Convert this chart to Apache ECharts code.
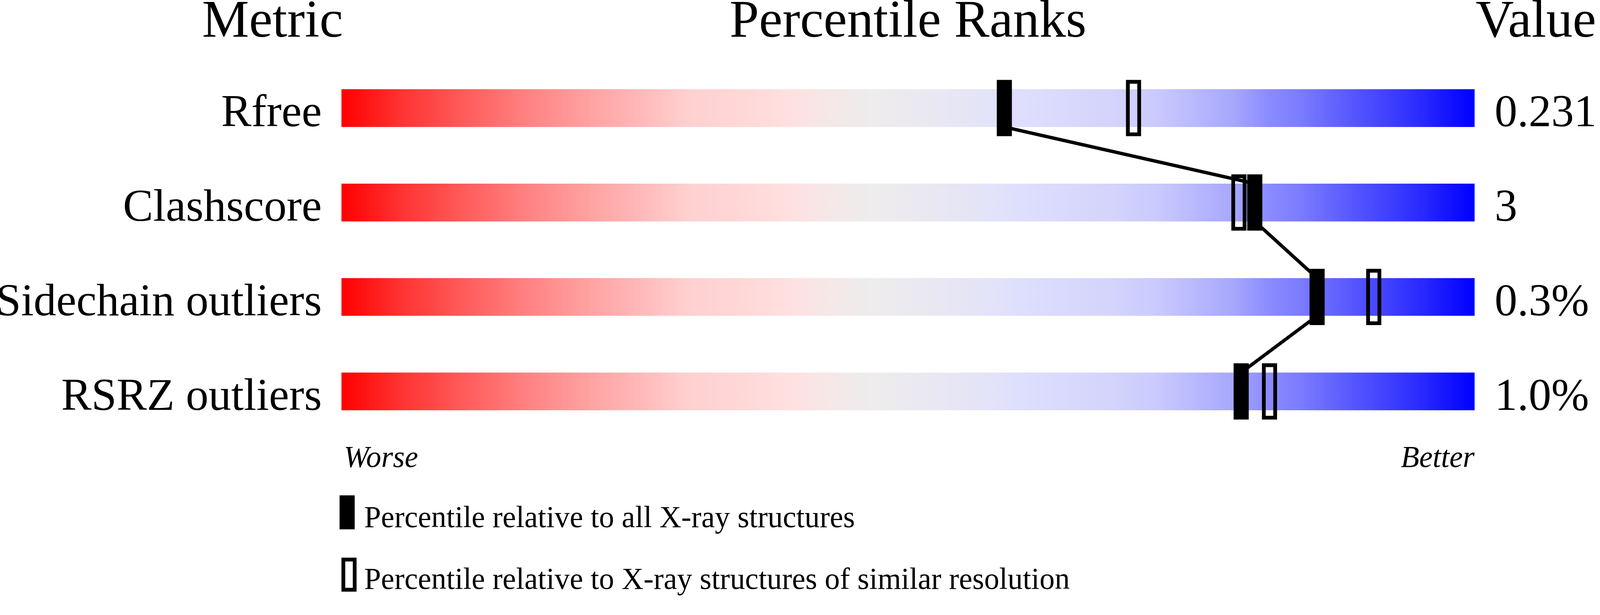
<!DOCTYPE html>
<html><head><meta charset="utf-8">
<script src="https://cdn.jsdelivr.net/npm/echarts@6/dist/echarts.min.js"></script>
<style>html,body{margin:0;padding:0;background:#fff;overflow:hidden}#c{width:100vw;height:100vh}</style>
</head><body><div id="c"></div>
<script>
// ---- data ----
const metrics = ['Rfree', 'Clashscore', 'Sidechain outliers', 'RSRZ outliers'];
const valueLabels = ['0.231', '3', '0.3%', '1.0%'];
const pctAll = [58.5, 80.6, 86.1, 79.4];
const pctSimilar = [69.9, 79.2, 91.1, 81.9];
const legendNames = ['Percentile relative to all X-ray structures', 'Percentile relative to X-ray structures of similar resolution'];
const headers = ['Metric', 'Percentile Ranks', 'Value'];
const axisEnds = ['Worse', 'Better'];

// ---- styles ----
const FONT = "'Liberation Serif','Times New Roman','DejaVu Serif',serif";
const stops = [
  [0, '#ff0000'], [0.053, '#ff3333'], [0.107, '#ff5a5a'], [0.161, '#ff8080'],
  [0.216, '#ffa0a0'], [0.27, '#ffbcbc'], [0.306, '#ffd0d0'], [0.36, '#ffd8d8'],
  [0.396, '#ffe0e0'], [0.433, '#f4e8e8'], [0.469, '#eeecec'], [0.505, '#ebe9ef'],
  [0.565, '#e4e4f8'], [0.602, '#dedefe'], [0.677, '#d4d4fc'], [0.719, '#cacafe'],
  [0.761, '#b4b4fe'], [0.786, '#a8a8fc'], [0.817, '#8c8cff'], [0.845, '#7c7cff'],
  [0.873, '#6666ff'], [0.901, '#5050ff'], [0.929, '#3c3cff'], [0.957, '#2626ff'],
  [0.985, '#0c0cff'], [1, '#0000ff']
].map(s => ({offset: s[0], color: s[1]}));

const el = document.getElementById('c');
const chart = echarts.init(el, null, {renderer: 'canvas'});
const S = Math.min(chart.getWidth() / 4236, chart.getHeight() / 1574);
const px = v => v * S;

const segData = [];
for (let i = 0; i < pctAll.length - 1; i++) segData.push([pctAll[i], i, pctAll[i + 1], i + 1]);

// marker renderer: hollow or filled rectangle centred on (value, row)
function markerRenderer(hollow) {
  return function (params, api) {
    const c = api.coord([api.value(0), api.value(1)]);
    const band = api.size([0, 1])[1];
    const H = band * 149 / 250, W = px(40);
    if (hollow) {
      const bw = px(10);
      return {type: 'rect', shape: {x: c[0] - W / 2 + bw / 2, y: c[1] - H / 2 + bw / 2, width: W - bw, height: H - bw},
              style: {fill: 'none', stroke: '#000', lineWidth: bw}};
    }
    return {type: 'rect', shape: {x: c[0] - W / 2, y: c[1] - H / 2, width: W, height: H},
            style: {fill: '#000'}};
  };
}

const labelAxis = (data, pos, margin) => ({
  type: 'category', gridIndex: 1, data: data, inverse: true, position: pos,
  axisLine: {show: false}, axisTick: {show: false}, splitLine: {show: false},
  axisLabel: {fontSize: px(120), fontFamily: FONT, color: '#000', margin: px(margin)}
});

const option = {
  backgroundColor: '#fff',
  animation: false,
  grid: [
    {left: px(904), width: px(3000), top: px(161), height: px(1000), containLabel: false, outerBoundsMode: 'none'},
    {left: px(904), width: px(3000), top: px(178), height: px(1000), containLabel: false, outerBoundsMode: 'none'}
  ],
  xAxis: [
    {type: 'value', gridIndex: 0, min: 0, max: 100, show: false},
    {type: 'value', gridIndex: 1, min: 0, max: 100, show: false}
  ],
  yAxis: [
    {type: 'category', gridIndex: 0, data: metrics, inverse: true, show: false},
    labelAxis(metrics, 'left', 52),
    labelAxis(valueLabels, 'right', 53)
  ],
  legend: [
    {data: [{name: legendNames[0], icon: 'path://M0,0L40,0L40,90L0,90ZM0,126L0,126',
             itemStyle: {color: '#000', borderWidth: 0, opacity: 1}}],
     left: px(899), top: px(1311), padding: 0, itemWidth: px(40), itemHeight: px(126), selectedMode: false,
     textStyle: {fontSize: px(80), fontFamily: FONT, color: '#000', padding: [0, 0, 0, px(20)]}},
    {data: [{name: legendNames[1], icon: 'path://M0,0L0,0M5,5L35,5L35,85L5,85ZM40,124L40,124',
             itemStyle: {color: 'rgba(0,0,0,0)', borderColor: '#000', borderWidth: px(10), opacity: 1}}],
     left: px(899), top: px(1471), padding: 0, itemWidth: px(40), itemHeight: px(124), selectedMode: false,
     textStyle: {fontSize: px(80), fontFamily: FONT, color: '#000', padding: [0, 0, 0, px(15)]}}
  ],
  graphic: [
    {type: 'text', x: px(908), y: px(60), style: {text: headers[0], font: px(140) + 'px ' + FONT, fill: '#000', align: 'right', verticalAlign: 'middle'}},
    {type: 'text', x: px(2404), y: px(60), style: {text: headers[1], font: px(140) + 'px ' + FONT, fill: '#000', align: 'center', verticalAlign: 'middle'}},
    {type: 'text', x: px(3907), y: px(60), style: {text: headers[2], font: px(140) + 'px ' + FONT, fill: '#000', align: 'left', verticalAlign: 'middle'}},
    {type: 'text', x: px(910), y: px(1215), style: {text: axisEnds[0], font: 'italic ' + px(80) + 'px ' + FONT, fill: '#000', align: 'left', verticalAlign: 'middle'}},
    {type: 'text', x: px(3904), y: px(1215), style: {text: axisEnds[1], font: 'italic ' + px(80) + 'px ' + FONT, fill: '#000', align: 'right', verticalAlign: 'middle'}}
  ],
  series: [
    {type: 'custom', name: 'bars', z: 1, silent: true,
     data: metrics.map((m, i) => [0, i, 100]),
     encode: {x: [0, 2], y: 1},
     renderItem: function (params, api) {
       const i = api.value(1);
       const p0 = api.coord([api.value(0), i]);
       const p1 = api.coord([api.value(2), i]);
       const h = api.size([0, 1])[1] * 0.4;
       return {type: 'rect', shape: {x: p0[0], y: p0[1] - h / 2, width: p1[0] - p0[0], height: h},
               style: {fill: {type: 'linear', x: 0, y: 0, x2: 1, y2: 0, colorStops: stops}}};
     }},
    {type: 'custom', name: legendNames[1], z: 2, silent: true,
     data: pctSimilar.map((v, i) => [v, i]), encode: {x: 0, y: 1},
     itemStyle: {color: '#fff', borderColor: '#000', borderWidth: px(10)},
     renderItem: markerRenderer(true)},
    {type: 'custom', name: 'link', z: 3, silent: true,
     data: segData, encode: {x: [0, 2], y: [1, 3]},
     renderItem: function (params, api) {
       const a = api.coord([api.value(0), api.value(1)]);
       const b = api.coord([api.value(2), api.value(3)]);
       const h = api.size([0, 1])[1] * 0.2;
       return {type: 'line', shape: {x1: a[0], y1: a[1] + h, x2: b[0], y2: b[1] - h},
               style: {stroke: '#000', lineWidth: px(9)}};
     }},
    {type: 'custom', name: legendNames[0], z: 4, silent: true,
     data: pctAll.map((v, i) => [v, i]), encode: {x: 0, y: 1},
     itemStyle: {color: '#000'},
     renderItem: markerRenderer(false)}
  ]
};
chart.setOption(option);
</script></body></html>
